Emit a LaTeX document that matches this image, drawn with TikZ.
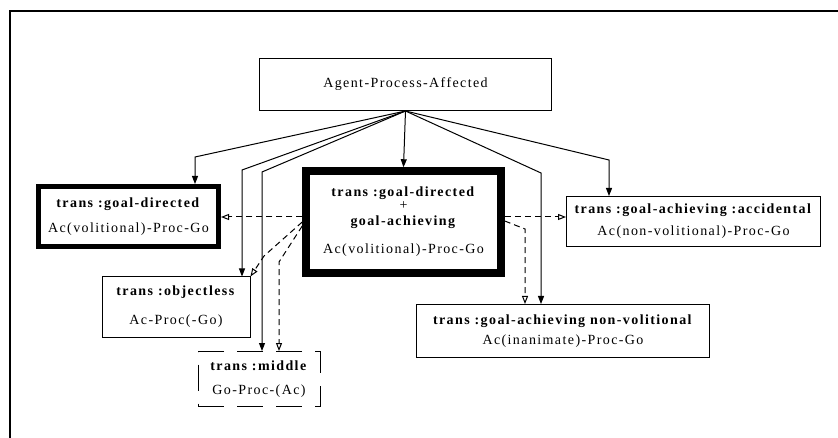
\documentclass[tikz,border=0pt]{standalone}
\usepackage{fontspec}
\setmainfont{Liberation Serif}[LetterSpace=10]
\usetikzlibrary{arrows.meta}

\tikzset{
  box/.style={draw, line width=1pt, align=center, inner sep=0pt,
    font=\fontsize{14}{22}\selectfont},
  fillarrow/.style={-{Triangle[width=6pt,length=8pt]}, line width=1pt},
  openarrow/.style={-{Triangle[open,width=6pt,length=8pt]}, line width=1pt,
    dash pattern=on 6pt off 4pt},
}

\begin{document}
\begin{tikzpicture}[x=1pt, y=-1pt]
    \useasboundingbox (0,0) rectangle (838,438);

    % 1. Frame
    \draw[line width=1.5pt] (838,11) -- (10,11) -- (10,438);

    % 2. Boxes
    \node[box, minimum width=292pt, minimum height=52pt] (top) at (405.5,84.5)
        {Agent-Process-Affected};
    \node[box, line width=5pt, minimum width=180pt, minimum height=60pt] (gd) at (128.5,216.5)
        {\textbf{trans :goal-directed}\\[3pt] Ac(volitional)-Proc-Go};
    \node[box, line width=7.5pt, minimum width=195pt, minimum height=102pt] (gdga) at (403.5,222)
        {\textbf{trans :goal-directed}\\[-9pt] +\\[-6pt] \textbf{goal-achieving}\\[6pt] Ac(volitional)-Proc-Go};
    \node[box, minimum width=254pt, minimum height=50pt] (acc) at (693.5,221.5)
        {\textbf{trans :goal-achieving :accidental}\\ Ac(non-volitional)-Proc-Go};
    \node[box, minimum width=148pt, minimum height=60pt] (obj) at (176,307)
        {\textbf{trans :objectless}\\[7pt] Ac-Proc(-Go)};
    \node[box, dash pattern=on 26pt off 13pt, minimum width=122pt, minimum height=55pt] (mid) at (259,379)
        {\textbf{trans :middle}\\[2pt] Go-Proc-(Ac)};
    \node[box, minimum width=293pt, minimum height=53pt] (nv) at (563,331)
        {\textbf{trans :goal-achieving non-volitional}\\[-2pt] Ac(inanimate)-Proc-Go};

    % 3. Solid arrows from the top box
    \draw[fillarrow] (top.south) -- (195,157) -- (195,157 |- gd.north);
    \draw[fillarrow] (top.south) -- (242,170) -- (242,170 |- obj.north);
    \draw[fillarrow] (top.south) -- (262,172) -- (262,172 |- mid.north);
    \draw[fillarrow] (top.south) -- (gdga.north);
    \draw[fillarrow] (top.south) -- (541,173) -- (541,173 |- nv.north);
    \draw[fillarrow] (top.south) -- (609,160) -- (609,160 |- acc.north);

    % 4. Dashed arrows from the middle box
    \draw[openarrow] (gdga.west |- 0,217) -- (gd.east |- 0,217);
    \draw[openarrow] (gdga.west |- 0,222) -- (264,256) -- (obj.north east);
    \draw[openarrow] (gdga.west |- 0,226) -- (279,262) -- (279,262 |- mid.north);
    \draw[openarrow] (gdga.east |- 0,217) -- (acc.west |- 0,217);
    \draw[openarrow] (gdga.east |- 0,221) -- (525,229) -- (525,229 |- nv.north);
\end{tikzpicture}
\end{document}
